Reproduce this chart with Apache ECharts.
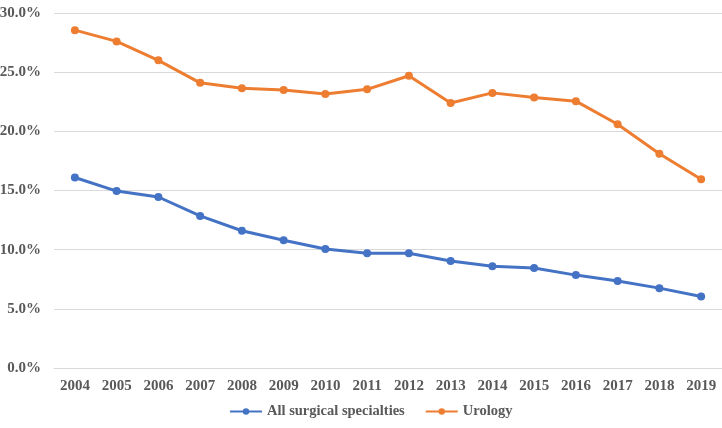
<!DOCTYPE html>
<html>
<head>
<meta charset="utf-8">
<script src="https://cdn.jsdelivr.net/npm/echarts@6/dist/echarts.min.js"></script>
<style>
  html, body { margin: 0; padding: 0; background: #fff; }
  #chart { width: 722px; height: 428px; }
</style>
</head>
<body>
<div id="chart"></div>
<script>
const years = ['2004', '2005', '2006', '2007', '2008', '2009', '2010', '2011',
  '2012', '2013', '2014', '2015', '2016', '2017', '2018', '2019'];
const allSurgical = [16.1, 14.95, 14.45, 12.85, 11.6, 10.8, 10.05, 9.7,
  9.7, 9.05, 8.6, 8.45, 7.85, 7.35, 6.75, 6.05];
const urology = [28.55, 27.6, 26.0, 24.1, 23.65, 23.5, 23.15, 23.55,
  24.7, 22.4, 23.25, 22.85, 22.55, 20.6, 18.1, 15.95];

const textColor = '#595959';
const font = 'Liberation Serif';

var chart = echarts.init(document.getElementById('chart'));

var option = {
  animation: false,
  grid: {
    left: 54,
    right: 0,
    top: 13,
    bottom: 60,
    containLabel: false,
    outerBoundsMode: 'none'
  },
  legend: {
    bottom: 4,
    left: 224,
    itemWidth: 32,
    itemHeight: 8,
    itemGap: 20,
    textStyle: { color: textColor, fontFamily: font, fontWeight: 'bold', fontSize: 14.5 },
    data: ['All surgical specialties', 'Urology']
  },
  xAxis: {
    type: 'category',
    data: years,
    boundaryGap: true,
    axisLine: { show: true, lineStyle: { color: '#d9d9d9', width: 1 } },
    axisTick: { show: false },
    axisLabel: { color: textColor, fontFamily: font, fontWeight: 'bold', fontSize: 15, margin: 11 }
  },
  yAxis: {
    type: 'value',
    min: 0,
    max: 30,
    interval: 5,
    axisLine: { show: false },
    axisTick: { show: false },
    splitLine: { lineStyle: { color: '#d9d9d9', width: 1 } },
    axisLabel: {
      color: textColor, fontFamily: font, fontWeight: 'bold', fontSize: 15, margin: 13,
      formatter: function (v) { return v.toFixed(1) + '%'; }
    }
  },
  series: [
    {
      name: 'All surgical specialties',
      type: 'line',
      data: allSurgical,
      symbol: 'circle',
      symbolSize: 8,
      color: '#4472C4',
      lineStyle: { width: 3 }
    },
    {
      name: 'Urology',
      type: 'line',
      data: urology,
      symbol: 'circle',
      symbolSize: 8,
      color: '#ED7D31',
      lineStyle: { width: 3 }
    }
  ]
};

chart.setOption(option);
</script>
</body>
</html>
